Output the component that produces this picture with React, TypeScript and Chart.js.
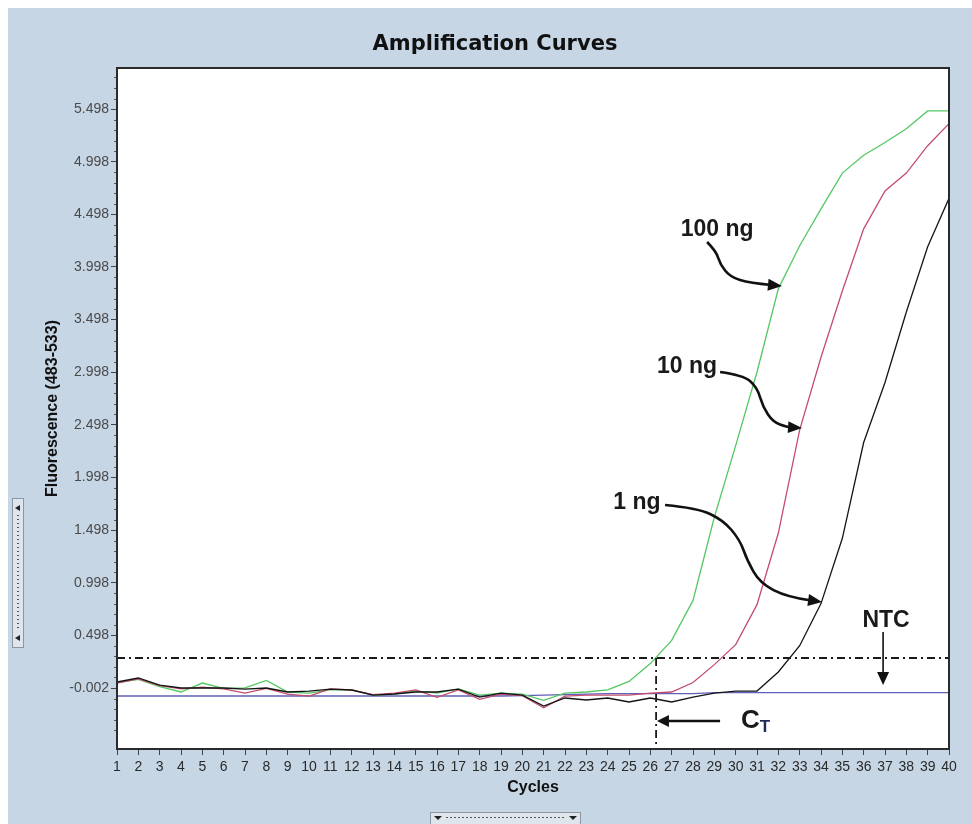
import React, { useEffect, useRef } from 'react';
import { Chart, registerables } from 'chart.js';

Chart.register(...registerables);

const FONT = '"Liberation Sans", Arial, sans-serif';
const TITLE = 'Amplification Curves';
const X_TITLE = 'Cycles';
const Y_TITLE = 'Fluorescence (483-533)';

const cycles = [1, 2, 3, 4, 5, 6, 7, 8, 9, 10, 11, 12, 13, 14, 15, 16, 17, 18, 19, 20,
  21, 22, 23, 24, 25, 26, 27, 28, 29, 30, 31, 32, 33, 34, 35, 36, 37, 38, 39, 40];
const xTickLabels = ['1', '2', '3', '4', '5', '6', '7', '8', '9', '10', '11', '12', '13', '14', '15', '16', '17', '18', '19', '20',
  '21', '22', '23', '24', '25', '26', '27', '28', '29', '30', '31', '32', '33', '34', '35', '36', '37', '38', '39', '40'];

const yTickValues = [-0.002, 0.498, 0.998, 1.498, 1.998, 2.498, 2.998, 3.498, 3.998, 4.498, 4.998, 5.498];
const yTickLabels = ['-0.002', '0.498', '0.998', '1.498', '1.998', '2.498', '2.998', '3.498', '3.998', '4.498', '4.998', '5.498'];
const yMin = -0.5815;
const yMax = 5.888;

const ng1 = [0.055, 0.093, 0.026, -0.002, -0.002, -0.002, -0.012, -0.002, -0.04, -0.031,
  -0.012, -0.021, -0.069, -0.059, -0.04, -0.04, -0.012, -0.088, -0.05, -0.069,
  -0.173, -0.097, -0.116, -0.097, -0.135, -0.097, -0.135, -0.088, -0.05, -0.031,
  -0.031, 0.15, 0.40, 0.80, 1.42, 2.33, 2.90, 3.57, 4.19, 4.65];
const ng10 = [0.045, 0.085, 0.02, -0.01, 0.005, -0.01, -0.05, -0.005, -0.06, -0.08,
  -0.01, -0.02, -0.065, -0.05, -0.02, -0.09, -0.02, -0.11, -0.06, -0.075,
  -0.19, -0.08, -0.07, -0.07, -0.07, -0.05, -0.04, 0.05, 0.22, 0.41,
  0.79, 1.47, 2.45, 3.14, 3.77, 4.36, 4.72, 4.89, 5.15, 5.36];
const ng100 = [0.05, 0.08, 0.01, -0.04, 0.045, -0.005, 0.0, 0.07, -0.04, -0.05,
  -0.02, -0.02, -0.07, -0.06, -0.03, -0.05, -0.01, -0.07, -0.05, -0.06,
  -0.12, -0.05, -0.04, -0.02, 0.06, 0.23, 0.45, 0.83, 1.62, 2.30,
  3.00, 3.79, 4.20, 4.55, 4.89, 5.06, 5.18, 5.31, 5.48, 5.48];
const ntc = [-0.078, -0.078, -0.078, -0.078, -0.078, -0.078, -0.078, -0.078, -0.078, -0.078,
  -0.078, -0.078, -0.078, -0.078, -0.078, -0.078, -0.078, -0.078, -0.078, -0.075,
  -0.07, -0.065, -0.06, -0.055, -0.055, -0.055, -0.055, -0.055, -0.045, -0.045,
  -0.045, -0.045, -0.045, -0.045, -0.045, -0.045, -0.045, -0.045, -0.045, -0.045];

const threshold = 0.283;
const ctCycle = 26.27;

// annotation anchors, in data units (cycle, fluorescence)
const label100 = { text: '100 ng', x: 29.13, y: 4.349 };
const arrow100 = [[28.66, 4.235], [29.08, 4.149], [29.27, 4.026], [29.74, 3.902], [30.67, 3.845], [32.17, 3.817]];
const label10 = { text: '10 ng', x: 27.72, y: 3.047 };
const arrow10 = [[29.27, 3.0], [30.34, 2.971], [31.0, 2.857], [31.28, 2.667], [31.75, 2.525], [32.41, 2.477], [33.11, 2.468]];
const label1 = { text: '1 ng', x: 25.375, y: 1.755 };
const arrow1 = [[26.69, 1.736], [28.19, 1.708], [29.41, 1.594], [30.2, 1.404], [30.53, 1.214], [31.14, 0.995], [32.41, 0.862], [34.05, 0.815]];
const labelNTC = { text: 'NTC', x: 37.05, y: 0.634 };
const arrowNTC = [[36.91, 0.53], [36.91, 0.0265]];
const arrowCT = [[29.27, -0.315], [26.31, -0.315]];
const labelCT = { main: 'C', sub: 'T', x: 30.25, y: -0.315 };

const PANEL_BG = '#c6d6e5';

function smoothPath(ctx: CanvasRenderingContext2D, pts: number[][]) {
  ctx.beginPath();
  ctx.moveTo(pts[0][0], pts[0][1]);
  if (pts.length === 2) {
    ctx.lineTo(pts[1][0], pts[1][1]);
  } else {
    for (let i = 1; i < pts.length - 2; i++) {
      const mx = (pts[i][0] + pts[i + 1][0]) / 2;
      const my = (pts[i][1] + pts[i + 1][1]) / 2;
      ctx.quadraticCurveTo(pts[i][0], pts[i][1], mx, my);
    }
    const n = pts.length;
    ctx.quadraticCurveTo(pts[n - 2][0], pts[n - 2][1], pts[n - 1][0], pts[n - 1][1]);
  }
  ctx.stroke();
}

function arrowHead(ctx: CanvasRenderingContext2D, from: number[], tip: number[], len = 14, half = 6) {
  const dx = tip[0] - from[0];
  const dy = tip[1] - from[1];
  const d = Math.hypot(dx, dy) || 1;
  const ux = dx / d, uy = dy / d;
  const bx = tip[0] - ux * len, by = tip[1] - uy * len;
  ctx.beginPath();
  ctx.moveTo(tip[0], tip[1]);
  ctx.lineTo(bx - uy * half, by + ux * half);
  ctx.lineTo(bx + uy * half, by - ux * half);
  ctx.closePath();
  ctx.fill();
}

const decorPlugin = {
  id: 'decor',
  beforeDraw(chart: any) {
    const { ctx, width, height, chartArea: a } = chart;
    ctx.save();
    ctx.fillStyle = PANEL_BG;
    ctx.fillRect(0, 0, width, height);
    ctx.fillStyle = '#ffffff';
    ctx.fillRect(a.left, a.top, a.right - a.left, a.bottom - a.top);

    ctx.fillStyle = '#111';
    ctx.font = 'bold 21px "DejaVu Sans", sans-serif';
    ctx.textAlign = 'center';
    ctx.textBaseline = 'middle';
    ctx.fillText(TITLE, width / 2 + 5, 37);

    // left scroll widget
    ctx.fillStyle = '#dfe5ec';
    ctx.strokeStyle = '#8c97a3';
    ctx.lineWidth = 1;
    ctx.fillRect(4.5, 490.5, 11, 149);
    ctx.strokeRect(4.5, 490.5, 11, 149);
    ctx.fillStyle = '#222';
    ctx.beginPath(); ctx.moveTo(7, 500); ctx.lineTo(12, 497); ctx.lineTo(12, 503); ctx.closePath(); ctx.fill();
    ctx.beginPath(); ctx.moveTo(7, 630); ctx.lineTo(12, 627); ctx.lineTo(12, 633); ctx.closePath(); ctx.fill();
    ctx.fillStyle = '#555';
    for (let yy = 507; yy < 622; yy += 4) ctx.fillRect(9, yy, 2, 1);

    // bottom scroll widget
    ctx.fillStyle = '#dfe5ec';
    ctx.fillRect(422.5, 804.5, 150, 14);
    ctx.strokeStyle = '#8c97a3';
    ctx.strokeRect(422.5, 804.5, 150, 14);
    ctx.fillStyle = '#222';
    ctx.beginPath(); ctx.moveTo(426, 808); ctx.lineTo(434, 808); ctx.lineTo(430, 812); ctx.closePath(); ctx.fill();
    ctx.beginPath(); ctx.moveTo(561, 808); ctx.lineTo(569, 808); ctx.lineTo(565, 812); ctx.closePath(); ctx.fill();
    ctx.fillStyle = '#555';
    for (let xx = 438; xx < 556; xx += 4) ctx.fillRect(xx, 809, 2, 1);
    ctx.restore();
  },
  afterDatasetsDraw(chart: any) {
    const { ctx, chartArea: a } = chart;
    const xs = chart.scales.x, ys = chart.scales.y;
    const P = (p: number[]) => [xs.getPixelForValue(p[0]), ys.getPixelForValue(p[1])];
    ctx.save();
    // threshold and CT lines
    ctx.strokeStyle = '#1a1a1a';
    ctx.lineWidth = 1.8;
    ctx.setLineDash([8, 4, 2, 4]);
    const ty = ys.getPixelForValue(threshold);
    ctx.beginPath(); ctx.moveTo(a.left, ty); ctx.lineTo(a.right, ty); ctx.stroke();
    const cx = xs.getPixelForValue(ctCycle);
    ctx.beginPath(); ctx.moveTo(cx, ty); ctx.lineTo(cx, a.bottom); ctx.stroke();
    ctx.setLineDash([]);

    // arrows
    ctx.strokeStyle = '#111';
    ctx.fillStyle = '#111';
    ctx.lineWidth = 2.6;
    ctx.lineCap = 'butt';
    const drawArrow = (arr: number[][], len = 14, half = 6) => {
      const pts = arr.map(P);
      const n = pts.length;
      const tip = pts[n - 1];
      const prev = pts[n - 2];
      const dx = tip[0] - prev[0], dy = tip[1] - prev[1];
      const d = Math.hypot(dx, dy) || 1;
      const shortened = pts.slice(0, n - 1).concat([[tip[0] - dx / d * (len - 3), tip[1] - dy / d * (len - 3)]]);
      smoothPath(ctx, shortened);
      arrowHead(ctx, prev, tip, len, half);
    };
    drawArrow(arrow100);
    drawArrow(arrow10);
    drawArrow(arrow1);
    ctx.lineWidth = 1.6;
    drawArrow(arrowNTC, 13, 6);
    ctx.lineWidth = 2.6;
    drawArrow(arrowCT, 12, 6);

    // labels
    ctx.font = `bold 23px ${FONT}`;
    ctx.textAlign = 'center';
    ctx.textBaseline = 'middle';
    ctx.fillStyle = '#1a1a1a';
    for (const l of [label100, label10, label1, labelNTC]) {
      const [px, py] = P([l.x, l.y]);
      ctx.fillText(l.text, px, py);
    }
    const [lx, ly] = P([labelCT.x, labelCT.y]);
    ctx.textAlign = 'left';
    ctx.font = `bold 26px ${FONT}`;
    ctx.fillText(labelCT.main, lx, ly);
    const w = ctx.measureText(labelCT.main).width;
    ctx.font = `bold 17px ${FONT}`;
    ctx.fillStyle = '#1c2a5c';
    ctx.fillText(labelCT.sub, lx + w, ly + 6);
    ctx.restore();
  },
  afterDraw(chart: any) {
    const { ctx, chartArea: a } = chart;
    const ys = chart.scales.y;
    ctx.save();
    // minor y ticks every 0.1
    ctx.strokeStyle = '#555';
    ctx.lineWidth = 1;
    for (let k = -6; k <= 64; k++) {
      if (((k % 5) + 5) % 5 === 0) continue;
      const v = -0.002 + k * 0.1;
      if (v < yMin || v > yMax) continue;
      const py = Math.round(ys.getPixelForValue(v)) + 0.5;
      ctx.beginPath(); ctx.moveTo(a.left - 3, py); ctx.lineTo(a.left, py); ctx.stroke();
    }
    // plot frame
    ctx.strokeStyle = '#2a2a2a';
    ctx.lineWidth = 2;
    ctx.strokeRect(a.left, a.top, a.right - a.left, a.bottom - a.top);
    ctx.restore();
  },
};

export default function App() {
  const ref = useRef<HTMLCanvasElement | null>(null);

  useEffect(() => {
    const canvas = ref.current;
    if (!canvas) return;
    const mk = (vals: number[]) => cycles.map((c, i) => ({ x: c, y: vals[i] }));
    const chart = new Chart(canvas, {
      type: 'line',
      data: {
        datasets: [
          { label: '1 ng', data: mk(ng1), borderColor: '#151515', borderWidth: 1.3 },
          { label: '10 ng', data: mk(ng10), borderColor: '#c44d6e', borderWidth: 1.3 },
          { label: '100 ng', data: mk(ng100), borderColor: '#55c863', borderWidth: 1.3 },
          { label: 'NTC', data: mk(ntc), borderColor: '#5f5fb8', borderWidth: 1.3 },
        ],
      },
      options: {
        animation: false,
        responsive: false,
        devicePixelRatio: 1,
        parsing: true,
        elements: { point: { radius: 0 }, line: { tension: 0 } },
        layout: { padding: { left: 0, top: 60, right: 23, bottom: 0 } },
        plugins: { legend: { display: false }, tooltip: { enabled: false }, title: { display: false } },
        scales: {
          x: {
            type: 'linear',
            min: 1,
            max: 40,
            afterBuildTicks: (s: any) => { s.ticks = cycles.map((v) => ({ value: v })); },
            afterFit: (s: any) => { s.height = 75; },
            ticks: {
              autoSkip: false,
              maxRotation: 0,
              minRotation: 0,
              padding: 4,
              color: '#2a2a2a',
              font: { family: FONT, size: 14 },
              callback: (v: any) => xTickLabels[cycles.indexOf(Number(v))] ?? '',
            },
            grid: { display: true, drawOnChartArea: false, drawTicks: true, tickLength: 6, color: '#444' },
            border: { display: false },
            title: {
              display: true,
              text: X_TITLE,
              color: '#111',
              font: { family: FONT, size: 16, weight: 'bold' },
              padding: { top: 0, bottom: 27 },
            },
          },
          y: {
            type: 'linear',
            min: yMin,
            max: yMax,
            afterBuildTicks: (s: any) => { s.ticks = yTickValues.map((v) => ({ value: v })); },
            afterFit: (s: any) => { s.width = 109; },
            ticks: {
              padding: 2,
              color: '#4a4a4a',
              font: { family: FONT, size: 14 },
              callback: (_v: any, i: number) => yTickLabels[i],
            },
            grid: { display: true, drawOnChartArea: false, drawTicks: true, tickLength: 6, color: '#444' },
            border: { display: false },
            title: {
              display: true,
              text: Y_TITLE,
              color: '#111',
              font: { family: FONT, size: 16, weight: 'bold' },
              padding: { top: 35, bottom: 0 },
            },
          },
        },
      } as any,
      plugins: [decorPlugin],
    });
    return () => chart.destroy();
  }, []);

  return (
    <div style={{ position: 'fixed', left: 0, top: 0, width: 972, height: 824, background: '#ffffff', overflow: 'hidden' }}>
      <canvas
        ref={ref}
        width={964}
        height={816}
        style={{ position: 'absolute', left: 8, top: 8, width: 964, height: 816 }}
      />
    </div>
  );
}
